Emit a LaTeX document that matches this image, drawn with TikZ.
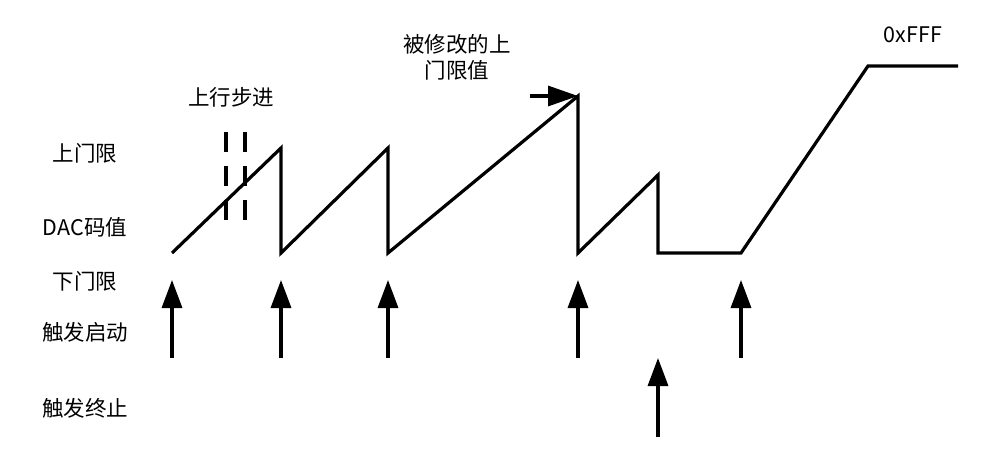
\documentclass[tikz,border=0pt]{standalone}
\usepackage{fontspec}
\setmainfont{Noto Sans CJK SC}
\usetikzlibrary{arrows.meta}
\begin{document}
\begin{tikzpicture}[x=1pt,y=-1pt,
  wave/.style={line width=3.2pt,line join=miter},
  trig/.style={line width=3.2pt,-{Triangle[length=28pt,width=20pt]}},
  lbl/.style={font=\fontsize{21.5}{26}\selectfont,inner sep=0pt,align=center},
  dsh/.style={line width=3.2pt,dash pattern=on 20pt off 14pt}]
\useasboundingbox (0,0) rectangle (993,465);
% labels
\node[lbl] (ul) at (85,153) {上门限};
\node[lbl] (dac) at (85,227) {DAC码值};
\node[lbl] (ll) at (85,281) {下门限};
\node[lbl] (ts) at (85,332) {触发启动};
\node[lbl] (te) at (85,408) {触发终止};
\node[lbl] (step) at (231,97) {上行步进};
\node[lbl] (mod) at (457,57) {被修改的上\\门限值};
\node[lbl] (fff) at (913,35) {0xFFF};
% waveform points
\coordinate (p0) at (172,253);
\coordinate (p1) at (281,148);
\coordinate (p2) at (281,253);
\coordinate (p3) at (388,148);
\coordinate (p4) at (388,253);
\coordinate (p5) at (578,96);
\coordinate (p6) at (578,253);
\coordinate (p7) at (658,175);
\coordinate (p8) at (658,253);
\coordinate (p9) at (741,253);
\coordinate (p10) at (868,66);
\coordinate (p11) at (958,66);
\draw[wave] (p0)--(p1)--(p2)--(p3)--(p4)--(p5)--(p6)--(p7)--(p8)--(p9)--(p10)--(p11);
% dashed step markers
\coordinate (d1a) at (226,132); \coordinate (d1b) at (226,222);
\coordinate (d2a) at (245,132); \coordinate (d2b) at (245,222);
\draw[dsh] (d1a)--(d1b);
\draw[dsh] (d2a)--(d2b);
% modified upper limit arrow
\coordinate (ma) at (530,96);
\draw[line width=3.2pt,-{Triangle[length=30pt,width=20pt]}] (ma)--(p5);
% trigger start arrows
\foreach \x/\n in {172/a,281/b,388/c,578/d,741/e}{
  \coordinate (s\n) at (\x,358);
  \coordinate (t\n) at (\x,280);
  \draw[trig] (s\n)--(t\n);
}
% trigger stop arrow
\coordinate (sf) at (658,437);
\coordinate (tf) at (658,358);
\draw[trig] (sf)--(tf);
\end{tikzpicture}
\end{document}
